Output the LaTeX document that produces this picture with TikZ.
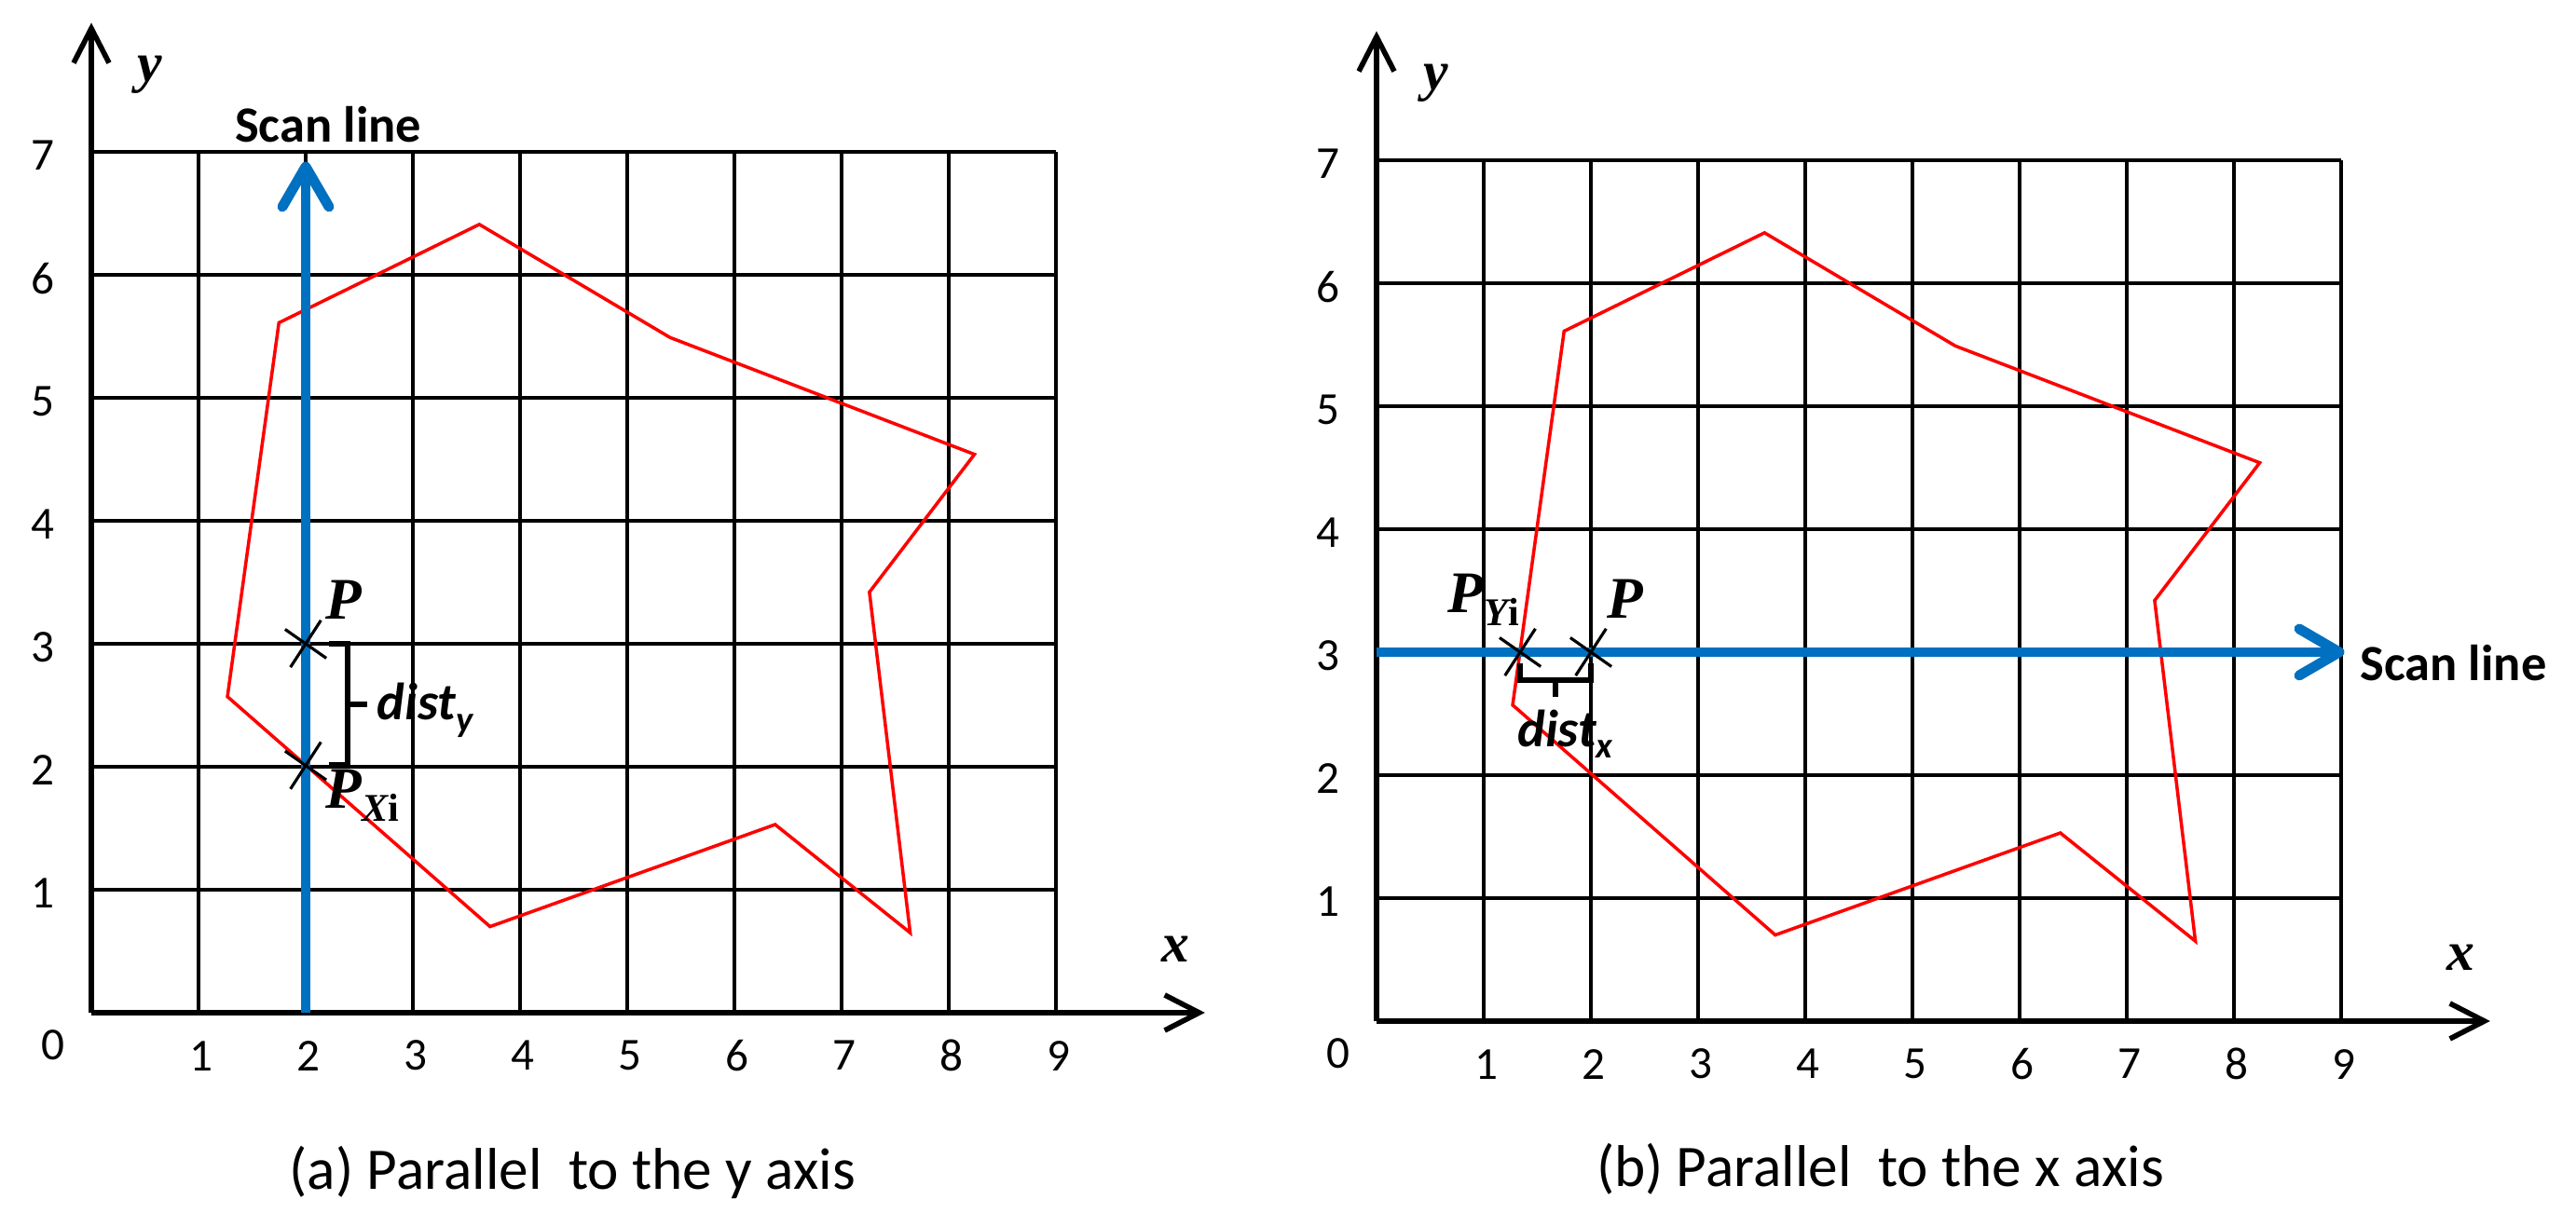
\documentclass[tikz,border=0pt]{standalone}
\usepackage{fontspec}
\setmainfont{Carlito}
\newfontfamily\serifvar{Liberation Serif}
\usepackage{xcolor}
\usepackage{tikz}
\usetikzlibrary{
  arrows.meta,
  positioning,
  calc
}
\definecolor{scanblue}{RGB}{0,112,192}

\begin{document}
\begin{tikzpicture}[
  gridline/.style={black, line width=1.1pt},
  axisline/.style={black, line width=1.6pt, -{Straight Barb[length=3.7mm,width=3.8mm]}},
  polyline/.style={red, line width=1pt},
  scanarrow/.style={scanblue, line width=3.1pt, -{Straight Barb[length=4.3mm,width=5mm,round]}},
  xcross/.style={black, line width=0.9pt},
  brace/.style={black, line width=1.8pt},
  ticklbl/.style={font=\fontsize{14}{16}\selectfont},
  axislbl/.style={font=\fontsize{17}{19}\selectfont\serifvar\bfseries\itshape},
  ptlbl/.style={font=\fontsize{18}{20}\selectfont\serifvar\bfseries\itshape, anchor=base west, inner sep=0pt},
  distlbl/.style={font=\fontsize{16}{18}\selectfont\bfseries\itshape, anchor=base west, inner sep=0pt},
  scanlbl/.style={font=\fontsize{15.5}{18}\selectfont\bfseries},
  caplbl/.style={font=\fontsize{18}{20}\selectfont}
]
\useasboundingbox (0,0) rectangle (27.64,13.17);

% common parts of both panels: grid, axes, ticks, polygon
\foreach \px/\py/\pn in {0.98/2.30/a, 14.77/2.21/b}{
  \begin{scope}[shift={(\px cm,\py cm)}, x=1.15cm, y=1.32cm]
    \foreach \k in {1,...,7}
      \draw[gridline] (0,\k) -- (9,\k);
    \foreach \k in {1,...,9}
      \draw[gridline] (\k,0) -- (\k,7);
    \draw[axisline] (0,0) -- (0,8.05);
    \draw[axisline] (0,0) -- (10.39,0);
    \node[axislbl] (ylbl-\pn) at (0.55,7.63) {y};
    \node[axislbl] (xlbl-\pn) at (10.12,0.52) {x};
    \node[ticklbl] (zero-\pn) at (-0.36,-0.26) {0};
    \foreach \k in {1,...,7}
      \node[ticklbl] (ytick-\pn\k) at (-0.45,\k-0.03) {\k};
    \foreach \k in {1,...,9}
      \node[ticklbl] (xtick-\pn\k) at (\k+0.03,-0.35) {\k};
    % region outline
    \draw[polyline] (1.75,5.61) -- (3.62,6.41) -- (5.4,5.49) -- (8.24,4.54)
      -- (7.26,3.42) -- (7.64,0.65) -- (6.38,1.53) -- (3.72,0.70)
      -- (1.27,2.57) -- cycle;
  \end{scope}
}

% panel (a): scan line parallel to y
\begin{scope}[shift={(0.98cm,2.30cm)}, x=1.15cm, y=1.32cm]
  \coordinate (pa) at (2,3);
  \coordinate (pxi) at (2,2.01);
  \draw[scanarrow] (2,0) -- (2,6.92) coordinate (scanend-a);
  \node[scanlbl] (scan-a) at (2.21,7.22) {Scan line};
  \foreach \c in {pa,pxi}{
    \draw[xcross] (\c) ++(145:2.7mm) -- ++(-35:5.4mm);
    \draw[xcross] (\c) ++(237:3mm) -- ++(57:6mm);
  }
  \draw[brace] ([xshift=2.5mm]pa) -- ([xshift=4.5mm]pa)
    -- ([xshift=4.5mm]pxi) -- ([xshift=2.5mm]pxi);
  \draw[brace] ($(pa)!0.5!(pxi)+(4.5mm,0)$) -- ++(2.1mm,0);
  \node[ptlbl] (plbl-a) at (2.18,3.2) {P};
  \node[ptlbl] (pxilbl) at (2.18,1.66)
    {P\raisebox{-4pt}{\fontsize{12}{12}\selectfont X\upshape i}};
  \node[distlbl] (disty) at (2.66,2.38)
    {dist\raisebox{-3.5pt}{\fontsize{11}{11}\selectfont y}};
  \node[caplbl] (cap-a) at (4.49,-1.30) {(a) Parallel\ \ to the y axis};
\end{scope}

% panel (b): scan line parallel to x
\begin{scope}[shift={(14.77cm,2.21cm)}, x=1.15cm, y=1.32cm]
  \coordinate (pyi) at (1.34,3);
  \coordinate (pb) at (2,3);
  \draw[scanarrow] (0,3) -- (9.03,3) coordinate (scanend-b);
  \node[scanlbl, anchor=west, inner sep=0pt] (scan-b) at (9.17,2.91) {Scan line};
  \foreach \c in {pyi,pb}{
    \draw[xcross] (\c) ++(145:2.7mm) -- ++(-35:5.4mm);
    \draw[xcross] (\c) ++(237:3mm) -- ++(57:6mm);
  }
  \draw[brace] ([yshift=-1.2mm]pyi) -- ([yshift=-3mm]pyi)
    -- ([yshift=-3mm]pb) -- ([yshift=-1.2mm]pb);
  \draw[brace] ($(pyi)!0.5!(pb)+(0,-3mm)$) -- ++(0,-1.8mm);
  \node[ptlbl] (pyilbl) at (0.66,3.32)
    {P\raisebox{-4pt}{\fontsize{12}{12}\selectfont Y\upshape i}};
  \node[ptlbl] (plbl-b) at (2.15,3.28) {P};
  \node[distlbl] (distx) at (1.31,2.23)
    {dist\raisebox{-3.5pt}{\fontsize{11}{11}\selectfont x}};
  \node[caplbl] (cap-b) at (4.70,-1.20) {(b) Parallel\ \ to the x axis};
\end{scope}
\end{tikzpicture}
\end{document}
